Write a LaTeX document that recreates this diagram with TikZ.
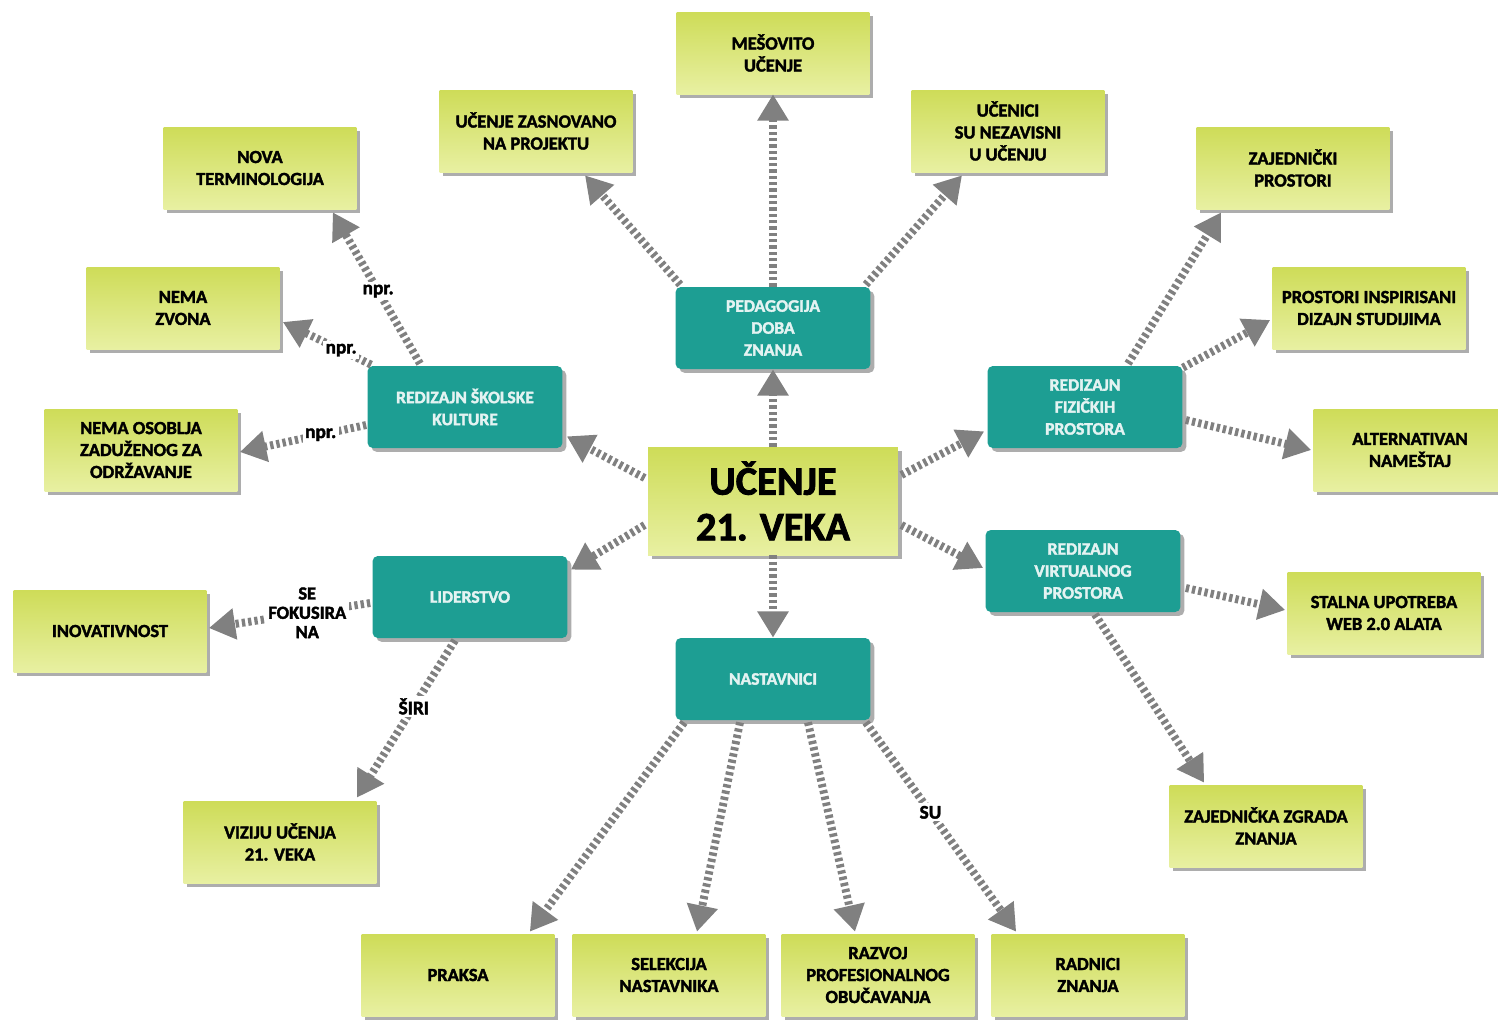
\documentclass[tikz,border=0pt]{standalone}
\usepackage{fontspec}
\setmainfont{Carlito}[BoldFeatures={FakeBold=2}]
\usetikzlibrary{arrows.meta,shadows,calc}
\definecolor{teal1}{RGB}{29,158,147}
\definecolor{lime1}{RGB}{206,220,88}
\definecolor{lime2}{RGB}{232,240,162}
\definecolor{arrgray}{RGB}{128,128,128}
\begin{document}
\begin{tikzpicture}[x=0.02cm,y=-0.02cm,
 shd/.style={drop shadow={shadow xshift=2.2pt,shadow yshift=-2.2pt,fill=black!40,opacity=0.8}},
 gbox/.style={shd,draw=none,top color=lime1,bottom color=lime2,minimum width=3.86cm,minimum height=1.64cm,inner sep=2pt,align=center,font=\bfseries\fontsize{10.5}{12.5}\selectfont,text=black},
 tbox/.style={shd,fill=teal1,rounded corners=3pt,minimum width=3.9cm,minimum height=1.64cm,inner sep=2pt,align=center,font=\bfseries\fontsize{10}{12.5}\selectfont,text=white!88!teal1},
 arr/.style={draw=arrgray,line width=4.5pt,dash pattern=on 1.9pt off 1.7pt,-{Triangle[length=15pt,width=17pt]}},
 lbl/.style={fill=white,inner sep=1.5pt,font=\bfseries\fontsize{11}{11.5}\selectfont,align=center}]
\useasboundingbox (0,0) rectangle (1498,1019);
% green boxes
\node[gbox] (mes) at (773,53) {MEŠOVITO\\UČENJE};
\node[gbox] (zas) at (536,131) {UČENJE ZASNOVANO\\NA PROJEKTU};
\node[gbox] (nez) at (1008,131) {UČENICI\\SU NEZAVISNI\\U UČENJU};
\node[gbox] (nova) at (260,168) {NOVA\\TERMINOLOGIJA};
\node[gbox] (zajp) at (1293,168) {ZAJEDNIČKI\\PROSTORI};
\node[gbox] (zvona) at (183,308) {NEMA\\ZVONA};
\node[gbox] (insp) at (1369,308) {PROSTORI INSPIRISANI\\DIZAJN STUDIJIMA};
\node[gbox] (osob) at (141,450) {NEMA OSOBLJA\\ZADUŽENOG ZA\\ODRŽAVANJE};
\node[gbox] (alt) at (1410,450) {ALTERNATIVAN\\NAMEŠTAJ};
\node[gbox,minimum width=5cm,minimum height=2.16cm,font=\bfseries\fontsize{23}{26}\selectfont] (X) at (773,501) {UČENJE\\21. VEKA};
\node[gbox] (ino) at (110,631) {INOVATIVNOST};
\node[gbox] (stal) at (1384,613) {STALNA UPOTREBA\\WEB 2.0 ALATA};
\node[gbox] (viz) at (280,842) {VIZIJU UČENJA\\21. VEKA};
\node[gbox] (zg) at (1266,826) {ZAJEDNIČKA ZGRADA\\ZNANJA};
\node[gbox] (pr) at (458,975) {PRAKSA};
\node[gbox] (sel) at (669,975) {SELEKCIJA\\NASTAVNIKA};
\node[gbox] (raz) at (878,975) {RAZVOJ\\PROFESIONALNOG\\OBUČAVANJA};
\node[gbox] (rad) at (1088,975) {RADNICI\\ZNANJA};
% teal boxes
\node[tbox] (A) at (773,328) {PEDAGOGIJA\\DOBA\\ZNANJA};
\node[tbox] (B) at (465,407) {REDIZAJN ŠKOLSKE\\KULTURE};
\node[tbox] (C) at (1085,407) {REDIZAJN\\FIZIČKIH\\PROSTORA};
\node[tbox] (D) at (470,597) {LIDERSTVO};
\node[tbox] (E) at (1083,571) {REDIZAJN\\VIRTUALNOG\\PROSTORA};
\node[tbox] (F) at (773,679) {NASTAVNICI};
% arrows from center
\draw[arr] (X.north) -- (A.south);
\draw[arr] ($(X.west)+(-3,-23)$) -- ($(B.south east)+(4,-12)$);
\draw[arr] ($(X.east)+(3,-26)$) -- ($(C.south west)+(-3,-17)$);
\draw[arr] ($(X.west)+(-3,24)$) -- ($(D.north east)+(3,14)$);
\draw[arr] ($(X.east)+(3,24)$) -- ($(E.west)+(-2,-3)$);
\draw[arr] (X.south) -- (F.north);
% pedagogija
\draw[arr] (A.north) -- (mes.south);
\draw[arr] ($(A.north west)+(5,-2)$) -- ($(zas.south)+(49,3)$);
\draw[arr] ($(A.north east)+(-5,-2)$) -- ($(nez.south)+(-46,3)$);
% skolska kultura
\draw[arr] ($(B.north)+(-45,-2)$) -- node[lbl,pos=0.48] {npr.} ($(nova.south east)+(-24,3)$);
\draw[arr] ($(B.north west)+(4,-1)$) -- node[lbl,pos=0.34] {npr.} ($(zvona.east)+(3,14)$);
\draw[arr] ($(B.west)+(-1,18)$) -- node[lbl,pos=0.36] {npr.} ($(osob.east)+(2,2)$);
% fizicki prostori
\draw[arr] ($(C.north)+(43,-2)$) -- ($(zajp.south west)+(25,3)$);
\draw[arr] ($(C.north east)+(0,2)$) -- ($(insp.west)+(-2,12)$);
\draw[arr] ($(C.east)+(3,13)$) -- ($(alt.west)+(-2,0)$);
% liderstvo
\draw[arr] ($(D.west)+(-2,6)$) -- node[lbl,pos=0.39,font=\bfseries\fontsize{10.5}{11}\selectfont] {SE\\FOKUSIRA\\NA} ($(ino.east)+(2,-3)$);
\draw[arr] ($(D.south)+(-15,2)$) -- node[lbl,pos=0.42] {ŠIRI} ($(viz.north east)+(-20,-3)$);
% virtualni prostor
\draw[arr] ($(E.east)+(5,17)$) -- ($(stal.west)+(-2,-3)$);
\draw[arr] ($(E.south)+(12,2)$) -- ($(zg.north west)+(35,-2)$);
% nastavnici
\draw[arr] ($(F.south west)+(9,2)$) -- ($(pr.north east)+(-25,-2)$);
\draw[arr] ($(F.south)+(-33,2)$) -- ($(sel.north)+(28,-2)$);
\draw[arr] ($(F.south)+(35,2)$) -- ($(raz.north)+(-23,-2)$);
\draw[arr] ($(F.south east)+(-5,2)$) -- node[lbl,pos=0.43] {SU} ($(rad.north west)+(25,-2)$);
\end{tikzpicture}
\end{document}
